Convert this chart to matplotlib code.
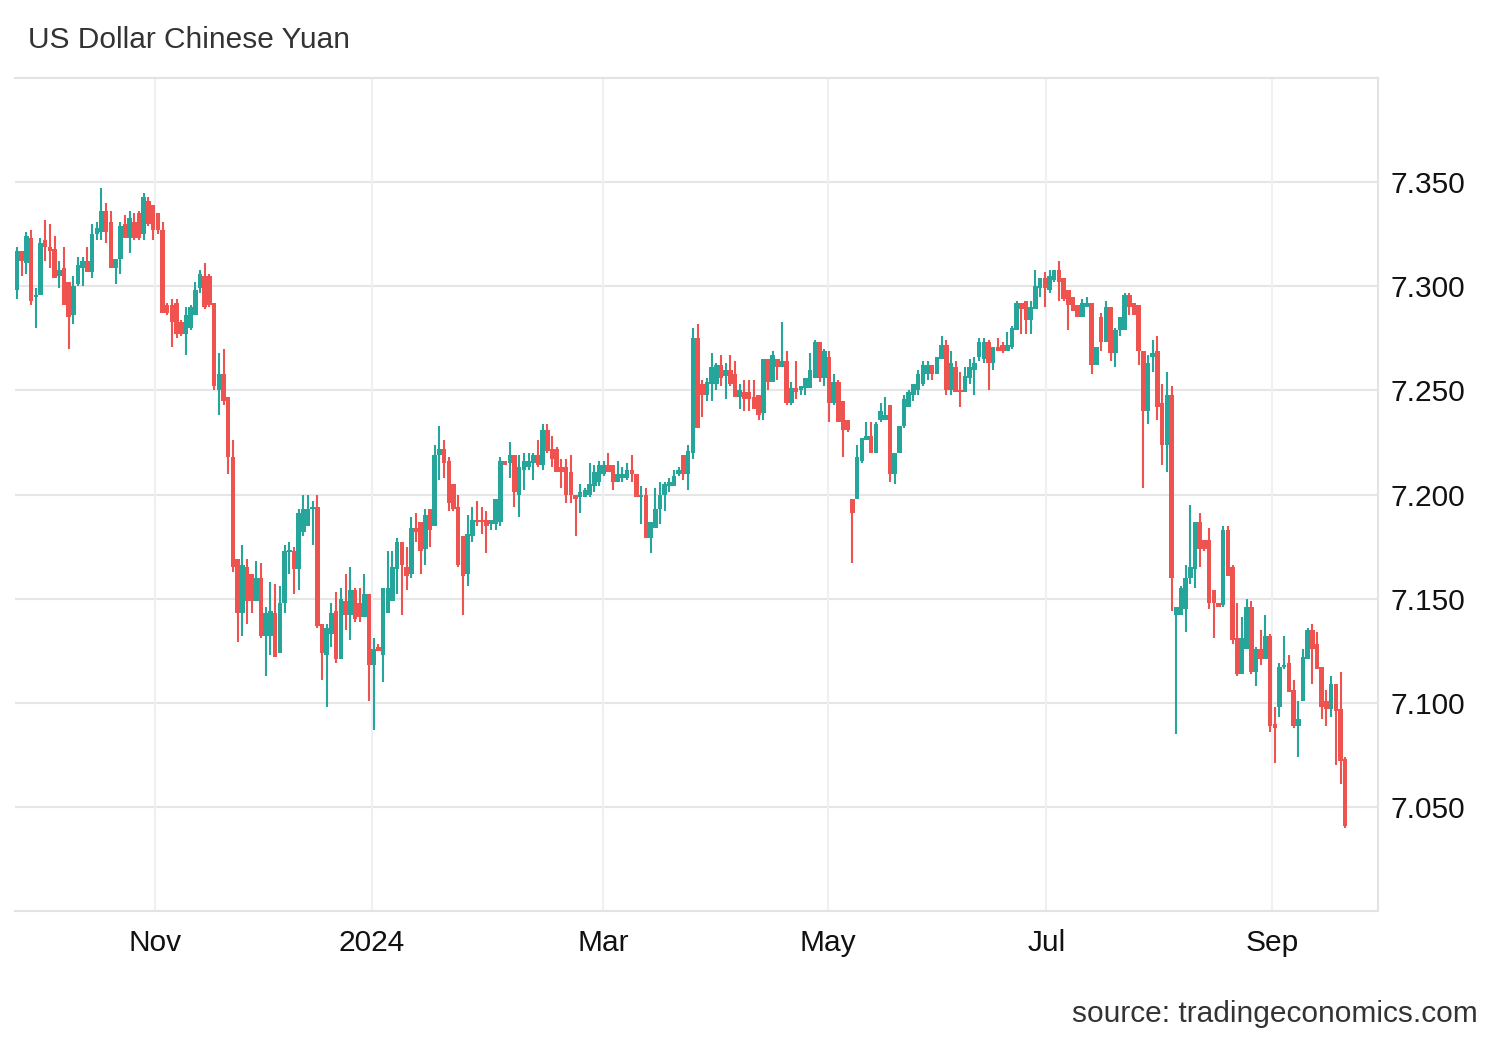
import numpy as np
import matplotlib
matplotlib.use("Agg")
import matplotlib.pyplot as plt

plt.rcParams['font.family'] = ['Liberation Sans', 'DejaVu Sans']

# daily USD/CNY candles
opens = [
    7.298, 7.317, 7.311, 7.323, 7.295, 7.296, 7.322, 7.319, 7.318, 7.305,
    7.309, 7.302, 7.286, 7.301, 7.309, 7.312, 7.307, 7.325, 7.326, 7.336,
    7.331, 7.309, 7.313, 7.330, 7.323, 7.331, 7.335, 7.325, 7.341, 7.339,
    7.335, 7.327, 7.291, 7.291, 7.292, 7.283, 7.277, 7.280, 7.286, 7.299,
    7.305, 7.305, 7.292, 7.250, 7.258, 7.247, 7.218, 7.169, 7.143, 7.165,
    7.162, 7.149, 7.160, 7.132, 7.132, 7.143, 7.124, 7.148, 7.1725, 7.173,
    7.164, 7.182, 7.185, 7.193, 7.194, 7.138, 7.123, 7.133, 7.144, 7.121,
    7.149, 7.142, 7.154, 7.148, 7.141, 7.152, 7.118, 7.127, 7.123, 7.143,
    7.149, 7.164, 7.177, 7.165, 7.162, 7.184, 7.187, 7.174, 7.193, 7.185,
    7.219, 7.222, 7.216, 7.205, 7.194, 7.180, 7.162, 7.180, 7.188, 7.188,
    7.188, 7.186, 7.186, 7.187, 7.216, 7.215, 7.219, 7.200, 7.212, 7.213,
    7.215, 7.219, 7.214, 7.231, 7.222, 7.222, 7.213, 7.213, 7.211, 7.200,
    7.199, 7.199, 7.200, 7.204, 7.206, 7.210, 7.214, 7.214, 7.206, 7.208,
    7.208, 7.212, 7.210, 7.199, 7.200, 7.179, 7.184, 7.193, 7.200, 7.204,
    7.204, 7.210, 7.219, 7.210, 7.220, 7.275, 7.253, 7.248, 7.253, 7.253,
    7.262, 7.257, 7.260, 7.258, 7.247, 7.249, 7.249, 7.247, 7.248, 7.239,
    7.265, 7.254, 7.265, 7.261, 7.264, 7.244, 7.251, 7.250, 7.251, 7.251,
    7.256, 7.273, 7.256, 7.266, 7.244, 7.254, 7.245, 7.236, 7.198, 7.198,
    7.216, 7.226, 7.228, 7.220, 7.236, 7.236, 7.243, 7.210, 7.220, 7.233,
    7.242, 7.248, 7.250, 7.253, 7.258, 7.262, 7.258, 7.265, 7.272, 7.250,
    7.261, 7.250, 7.249, 7.256, 7.260, 7.266, 7.265, 7.273, 7.263, 7.271,
    7.272, 7.269, 7.271, 7.279, 7.292, 7.293, 7.284, 7.289, 7.299, 7.304,
    7.298, 7.303, 7.308, 7.304, 7.298, 7.295, 7.291, 7.285, 7.290, 7.292,
    7.262, 7.285, 7.273, 7.290, 7.268, 7.279, 7.279, 7.296, 7.292, 7.291,
    7.269, 7.240, 7.266, 7.269, 7.244, 7.224, 7.248, 7.142, 7.142, 7.145,
    7.160, 7.164, 7.187, 7.178, 7.178, 7.154, 7.148, 7.147, 7.183, 7.165,
    7.131, 7.114, 7.126, 7.146, 7.115, 7.126, 7.121, 7.132, 7.090, 7.098,
    7.117, 7.119, 7.106, 7.089, 7.101, 7.121, 7.135, 7.128, 7.117, 7.101,
    7.097, 7.109, 7.097, 7.073,
]
highs = [
    7.319, 7.317, 7.326, 7.327, 7.299, 7.323, 7.332, 7.330, 7.324, 7.312,
    7.319, 7.302, 7.305, 7.314, 7.314, 7.319, 7.330, 7.331, 7.347, 7.340,
    7.336, 7.313, 7.331, 7.334, 7.336, 7.335, 7.336, 7.345, 7.343, 7.339,
    7.335, 7.331, 7.292, 7.294, 7.294, 7.284, 7.290, 7.291, 7.302, 7.308,
    7.311, 7.306, 7.292, 7.268, 7.270, 7.247, 7.226, 7.169, 7.176, 7.169,
    7.162, 7.168, 7.167, 7.146, 7.158, 7.157, 7.156, 7.176, 7.177, 7.175,
    7.193, 7.200, 7.200, 7.197, 7.200, 7.138, 7.138, 7.148, 7.153, 7.155,
    7.162, 7.165, 7.155, 7.155, 7.162, 7.152, 7.131, 7.128, 7.155, 7.173,
    7.173, 7.179, 7.177, 7.175, 7.189, 7.191, 7.187, 7.193, 7.193, 7.224,
    7.233, 7.226, 7.218, 7.205, 7.200, 7.180, 7.190, 7.194, 7.197, 7.194,
    7.192, 7.188, 7.198, 7.218, 7.216, 7.225, 7.219, 7.219, 7.220, 7.220,
    7.220, 7.226, 7.234, 7.234, 7.228, 7.223, 7.217, 7.217, 7.219, 7.200,
    7.205, 7.203, 7.215, 7.214, 7.216, 7.216, 7.220, 7.214, 7.216, 7.213,
    7.215, 7.219, 7.210, 7.204, 7.203, 7.187, 7.203, 7.206, 7.206, 7.208,
    7.212, 7.213, 7.219, 7.224, 7.280, 7.282, 7.255, 7.256, 7.268, 7.263,
    7.267, 7.263, 7.267, 7.264, 7.253, 7.255, 7.255, 7.255, 7.248, 7.265,
    7.265, 7.269, 7.265, 7.283, 7.269, 7.254, 7.264, 7.252, 7.256, 7.268,
    7.274, 7.273, 7.270, 7.269, 7.258, 7.255, 7.245, 7.236, 7.198, 7.224,
    7.227, 7.235, 7.235, 7.235, 7.244, 7.247, 7.243, 7.220, 7.233, 7.248,
    7.250, 7.253, 7.260, 7.264, 7.264, 7.262, 7.266, 7.276, 7.274, 7.269,
    7.264, 7.259, 7.261, 7.265, 7.266, 7.275, 7.275, 7.274, 7.271, 7.275,
    7.273, 7.278, 7.281, 7.293, 7.292, 7.293, 7.293, 7.308, 7.304, 7.307,
    7.308, 7.308, 7.312, 7.304, 7.298, 7.295, 7.291, 7.294, 7.295, 7.292,
    7.271, 7.287, 7.293, 7.290, 7.280, 7.285, 7.297, 7.297, 7.292, 7.291,
    7.269, 7.267, 7.274, 7.276, 7.253, 7.259, 7.252, 7.146, 7.156, 7.166,
    7.195, 7.187, 7.191, 7.178, 7.184, 7.154, 7.148, 7.185, 7.185, 7.166,
    7.148, 7.141, 7.150, 7.149, 7.127, 7.135, 7.142, 7.133, 7.098, 7.119,
    7.132, 7.123, 7.111, 7.101, 7.126, 7.136, 7.138, 7.134, 7.117, 7.106,
    7.113, 7.109, 7.115, 7.074,
]
lows = [
    7.294, 7.305, 7.306, 7.291, 7.280, 7.296, 7.312, 7.309, 7.304, 7.299,
    7.291, 7.270, 7.282, 7.300, 7.300, 7.307, 7.304, 7.322, 7.322, 7.321,
    7.309, 7.301, 7.306, 7.323, 7.316, 7.322, 7.322, 7.322, 7.329, 7.322,
    7.325, 7.287, 7.286, 7.271, 7.275, 7.276, 7.267, 7.279, 7.286, 7.297,
    7.289, 7.290, 7.250, 7.238, 7.243, 7.210, 7.163, 7.129, 7.132, 7.138,
    7.143, 7.149, 7.131, 7.113, 7.123, 7.122, 7.124, 7.143, 7.162, 7.152,
    7.154, 7.180, 7.185, 7.176, 7.136, 7.111, 7.098, 7.127, 7.119, 7.121,
    7.135, 7.130, 7.139, 7.139, 7.141, 7.101, 7.087, 7.125, 7.110, 7.143,
    7.149, 7.152, 7.142, 7.154, 7.160, 7.177, 7.162, 7.166, 7.175, 7.185,
    7.207, 7.208, 7.192, 7.192, 7.165, 7.142, 7.156, 7.177, 7.185, 7.181,
    7.172, 7.183, 7.183, 7.185, 7.214, 7.208, 7.194, 7.189, 7.202, 7.212,
    7.207, 7.213, 7.212, 7.220, 7.213, 7.211, 7.203, 7.196, 7.196, 7.180,
    7.191, 7.199, 7.199, 7.201, 7.204, 7.209, 7.211, 7.202, 7.206, 7.206,
    7.207, 7.206, 7.199, 7.186, 7.179, 7.172, 7.184, 7.186, 7.192, 7.201,
    7.204, 7.209, 7.207, 7.202, 7.217, 7.232, 7.237, 7.245, 7.245, 7.250,
    7.252, 7.246, 7.252, 7.247, 7.241, 7.240, 7.240, 7.241, 7.236, 7.236,
    7.250, 7.254, 7.255, 7.261, 7.243, 7.243, 7.246, 7.248, 7.248, 7.251,
    7.256, 7.254, 7.252, 7.235, 7.243, 7.235, 7.218, 7.230, 7.167, 7.198,
    7.215, 7.226, 7.220, 7.220, 7.235, 7.236, 7.206, 7.205, 7.220, 7.232,
    7.242, 7.245, 7.248, 7.252, 7.255, 7.255, 7.258, 7.265, 7.248, 7.248,
    7.249, 7.242, 7.249, 7.253, 7.248, 7.264, 7.263, 7.250, 7.260, 7.269,
    7.268, 7.269, 7.270, 7.279, 7.277, 7.277, 7.277, 7.289, 7.295, 7.290,
    7.297, 7.302, 7.293, 7.293, 7.279, 7.288, 7.285, 7.285, 7.290, 7.258,
    7.262, 7.269, 7.273, 7.264, 7.261, 7.276, 7.279, 7.286, 7.286, 7.262,
    7.203, 7.234, 7.259, 7.236, 7.214, 7.211, 7.144, 7.085, 7.142, 7.134,
    7.157, 7.155, 7.165, 7.173, 7.145, 7.131, 7.146, 7.146, 7.161, 7.128,
    7.113, 7.114, 7.126, 7.114, 7.108, 7.118, 7.121, 7.086, 7.071, 7.093,
    7.116, 7.105, 7.088, 7.074, 7.101, 7.121, 7.109, 7.116, 7.092, 7.089,
    7.093, 7.070, 7.061, 7.040,
]
closes = [
    7.317, 7.312, 7.324, 7.293, 7.296, 7.321, 7.319, 7.317, 7.304, 7.308,
    7.291, 7.285, 7.300, 7.310, 7.312, 7.307, 7.325, 7.328, 7.336, 7.326,
    7.309, 7.313, 7.329, 7.323, 7.333, 7.323, 7.323, 7.343, 7.330, 7.327,
    7.327, 7.287, 7.287, 7.283, 7.277, 7.277, 7.286, 7.290, 7.298, 7.306,
    7.290, 7.291, 7.252, 7.258, 7.245, 7.218, 7.165, 7.143, 7.166, 7.149,
    7.149, 7.160, 7.132, 7.143, 7.144, 7.122, 7.148, 7.173, 7.1735, 7.164,
    7.191, 7.193, 7.193, 7.194, 7.137, 7.124, 7.136, 7.143, 7.121, 7.150,
    7.142, 7.154, 7.140, 7.141, 7.152, 7.118, 7.126, 7.125, 7.155, 7.155,
    7.165, 7.177, 7.166, 7.161, 7.184, 7.182, 7.173, 7.190, 7.183, 7.219,
    7.222, 7.215, 7.196, 7.193, 7.166, 7.161, 7.181, 7.188, 7.187, 7.187,
    7.185, 7.188, 7.198, 7.216, 7.214, 7.219, 7.201, 7.213, 7.216, 7.216,
    7.219, 7.214, 7.231, 7.221, 7.217, 7.211, 7.211, 7.200, 7.200, 7.198,
    7.201, 7.202, 7.205, 7.211, 7.214, 7.214, 7.211, 7.206, 7.210, 7.210,
    7.212, 7.210, 7.199, 7.200, 7.179, 7.187, 7.193, 7.200, 7.205, 7.206,
    7.209, 7.212, 7.210, 7.221, 7.275, 7.232, 7.248, 7.254, 7.261, 7.262,
    7.256, 7.260, 7.253, 7.247, 7.250, 7.246, 7.246, 7.241, 7.238, 7.265,
    7.254, 7.267, 7.261, 7.264, 7.244, 7.251, 7.249, 7.252, 7.256, 7.260,
    7.273, 7.256, 7.269, 7.244, 7.254, 7.235, 7.231, 7.231, 7.191, 7.218,
    7.227, 7.228, 7.220, 7.234, 7.240, 7.238, 7.210, 7.220, 7.233, 7.246,
    7.249, 7.253, 7.258, 7.262, 7.262, 7.258, 7.266, 7.272, 7.250, 7.263,
    7.249, 7.249, 7.257, 7.261, 7.263, 7.273, 7.273, 7.263, 7.271, 7.269,
    7.269, 7.272, 7.280, 7.292, 7.289, 7.284, 7.290, 7.300, 7.304, 7.299,
    7.305, 7.308, 7.302, 7.294, 7.291, 7.288, 7.285, 7.292, 7.292, 7.262,
    7.271, 7.273, 7.290, 7.268, 7.279, 7.285, 7.296, 7.290, 7.286, 7.269,
    7.240, 7.263, 7.268, 7.242, 7.224, 7.248, 7.160, 7.146, 7.155, 7.160,
    7.165, 7.187, 7.174, 7.174, 7.148, 7.148, 7.146, 7.183, 7.161, 7.130,
    7.114, 7.131, 7.146, 7.115, 7.126, 7.121, 7.132, 7.089, 7.088, 7.117,
    7.118, 7.105, 7.089, 7.092, 7.122, 7.135, 7.126, 7.116, 7.098, 7.097,
    7.109, 7.096, 7.072, 7.041,
]

month_labels = ['Nov', '2024', 'Mar', 'May', 'Jul', 'Sep']
month_pos = [29.4, 75.6, 124.9, 172.8, 219.3, 267.4]   # candle index of month start
yticks = [7.05, 7.10, 7.15, 7.20, 7.25, 7.30, 7.35]

UP = '#26a69a'
DOWN = '#ef5350'

o = np.array(opens)
h = np.array(highs)
l = np.array(lows)
c = np.array(closes)
x = np.arange(len(c))
colors = np.where(c >= o, UP, DOWN)

fig = plt.figure(figsize=(15, 10.4), dpi=100)
ax = fig.add_axes([0.01, 0.124, 0.9087, 0.801])

ax.vlines(x, l, h, colors=colors, linewidth=1.5, zorder=3)
body = np.maximum(np.abs(c - o), 0.0007)
ax.bar(x, body, bottom=np.minimum(o, c), width=0.97, color=colors,
       linewidth=0, zorder=3)

ax.set_xlim(-0.43, 290.0)
ax.set_ylim(7.0, 7.40)

ax.yaxis.tick_right()
ax.set_yticks(yticks)
ax.set_yticklabels([f'{v:.3f}' for v in yticks])
ax.set_xticks(month_pos)
ax.set_xticklabels(month_labels)
ax.tick_params(axis='y', length=0, pad=9, labelsize=21.5, labelcolor='#111111')
ax.tick_params(axis='x', length=0, pad=13, labelsize=21.5, labelcolor='#111111')

for v in yticks:
    ax.axhline(v, color='#e6e6e6', linewidth=1.5, zorder=1)
for p in month_pos:
    ax.axvline(p, color='#edf1f6', linewidth=1.5, zorder=1)

for side in ['top', 'bottom', 'right']:
    ax.spines[side].set_color('#e3e3e3')
    ax.spines[side].set_linewidth(1.5)
ax.spines['left'].set_visible(False)

fig.text(28 / 1500, 1 - 40 / 1040, 'US Dollar Chinese Yuan', fontsize=21.5,
         color='#333333', va='center', ha='left')
fig.text(1478 / 1500, 1 - 1014 / 1040, 'source: tradingeconomics.com',
         fontsize=21.5, color='#333333', va='center', ha='right')

fig.savefig('out.png', dpi=100)
